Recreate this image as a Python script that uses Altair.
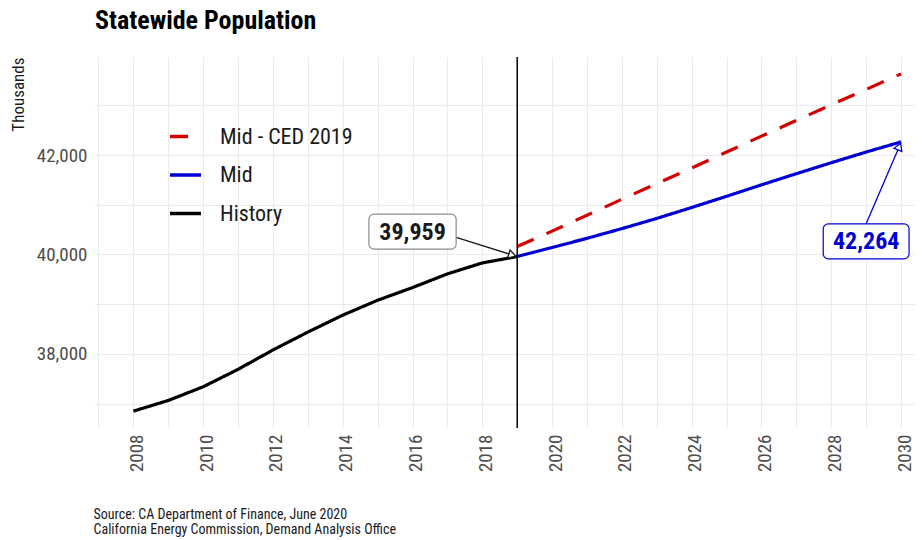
import altair as alt
import pandas as pd

# ---- data ----
hist_years = list(range(2008, 2020))
hist_values = [36850, 37065, 37340, 37690, 38080, 38440, 38780, 39080, 39335, 39610, 39830, 39959]

fc_years = list(range(2019, 2031))
mid_values = [39959, 40140, 40325, 40520, 40725, 40945, 41170, 41400, 41625, 41845, 42060, 42264]
ced_values = [40160, 40470, 40790, 41110, 41425, 41740, 42060, 42380, 42695, 43010, 43320, 43632]

series_names = ["Mid - CED 2019", "Mid", "History"]
series_colors = ["#d40000", "#0000d4", "#000000"]

x_ticks = list(range(2007, 2031))
y_ticks = list(range(37000, 44000, 1000))
x_domain = [2006.9, 2030.4]
y_domain = [36511, 43971]

vline_year = [2019]

# annotations: label text, centre, box extents, arrow start / head
ann_text = ["39,959", "42,264"]
ann_x = [2016, 2029]
ann_y = [40459, 40264]
ann_x0 = [2014.75, 2027.77]
ann_x1 = [2017.25, 2030.23]
ann_y0 = [40107, 39912]
ann_y1 = [40811, 40616]
ann_color = ["#1a1a1a", "#0000d4"]
ann_border = ["#8c8c8c", "#0000d4"]
arrow_x0 = [2017.25, 2029.0]
arrow_y0 = [40342, 40616]
arrow_x1 = [2018.86, 2029.95]
arrow_y1 = [39989, 42171]
arrow_angle = [16.7, 292.3]

FONT = "Roboto Condensed, Liberation Sans Narrow, DejaVu Sans Condensed, Roboto, sans-serif"

lines_df = pd.concat([
    pd.DataFrame({"year": hist_years, "value": hist_values, "series": "History"}),
    pd.DataFrame({"year": fc_years, "value": mid_values, "series": "Mid"}),
    pd.DataFrame({"year": fc_years, "value": ced_values, "series": "Mid - CED 2019"}),
])
ann_df = pd.DataFrame({
    "text": ann_text, "x": ann_x, "y": ann_y, "x0": ann_x0, "x1": ann_x1,
    "y0": ann_y0, "y1": ann_y1, "color": ann_color, "border": ann_border,
    "ax0": arrow_x0, "ay0": arrow_y0, "ax1": arrow_x1, "ay1": arrow_y1,
    "angle": arrow_angle,
})
vline_df = pd.DataFrame({"year": vline_year})

xscale = alt.Scale(domain=x_domain, nice=False, zero=False)
yscale = alt.Scale(domain=y_domain, nice=False, zero=False)

x_axis = alt.Axis(
    values=x_ticks, format="d",
    labelExpr="datum.value % 2 == 0 ? datum.label : ''",
    labelAngle=270, labelFontSize=19, labelColor="#4d4d4d", labelPadding=6,
    labelOffset=3,
    ticks=False, domain=False, gridColor="#ebebeb", gridWidth=1,
    title=["Source: CA Department of Finance, June 2020",
           "California Energy Commission, Demand Analysis Office"],
    titleAnchor="start", titleAlign="left", titleX=-2, titleY=90,
    titleBaseline="alphabetic", titleFontSize=14, titleFontWeight="normal",
    titleColor="#1a1a1a", titleLineHeight=15.5, labelFlush=False, labelOverlap=False,
)
y_axis = alt.Axis(
    values=y_ticks, labelExpr="datum.value % 2000 == 0 ? format(datum.value, ',') : ''",
    labelFontSize=19, labelColor="#4d4d4d", labelPadding=8,
    ticks=False, domain=False, gridColor="#ebebeb", gridWidth=1,
    title="Thousands", titleAngle=270, titleX=-77, titleY=0, titleAlign="right",
    titleBaseline="middle", titleFontSize=17, titleFontWeight="normal",
    titleColor="#1a1a1a", labelFlush=False, labelOverlap=False,
)


def X(field):
    return alt.X(field, type="quantitative", scale=xscale, axis=x_axis)


def Y(field):
    return alt.Y(field, type="quantitative", scale=yscale, axis=y_axis)


color_scale = alt.Scale(domain=series_names, range=series_colors)
dash_scale = alt.Scale(domain=series_names, range=[[18, 14], [1, 0], [1, 0]])

legend = alt.Legend(
    title=None, orient="none", legendX=73, legendY=62, symbolType="stroke",
    symbolSize=961, symbolStrokeWidth=3.5, labelFontSize=22, labelColor="#1a1a1a",
    labelOffset=17, rowPadding=9.5,
)

base_lines = alt.Chart(lines_df).mark_line(strokeWidth=3.2, strokeJoin="round").encode(
    x=X("year"),
    y=Y("value"),
    color=alt.Color("series:N", scale=color_scale, legend=legend, sort=series_names),
    strokeDash=alt.StrokeDash("series:N", scale=dash_scale, legend=legend, sort=series_names),
    detail="series:N",
)

vline = alt.Chart(vline_df).mark_rule(color="#000000", strokeWidth=1.5).encode(
    x=X("year")
)

arrows = alt.Chart(ann_df).mark_rule(strokeWidth=1.3).encode(
    x=X("ax0"), x2="ax1:Q",
    y=Y("ay0"), y2="ay1:Q",
    color=alt.Color("color:N", scale=None),
)
heads = alt.Chart(ann_df).mark_point(shape="triangle-right", size=70, fill="white",
                                     filled=False, strokeWidth=1.3, opacity=1).encode(
    x=X("ax1"), y=Y("ay1"),
    stroke=alt.Stroke("color:N", scale=None), angle=alt.Angle("angle:Q", scale=None),
)
boxes = alt.Chart(ann_df).mark_rect(fill="white", strokeWidth=1.2, cornerRadius=5).encode(
    x=X("x0"), x2="x1:Q",
    y=Y("y0"), y2="y1:Q",
    stroke=alt.Stroke("border:N", scale=None),
)
labels = alt.Chart(ann_df).mark_text(fontSize=24, fontWeight="bold", baseline="middle",
                                     align="center", dy=1).encode(
    x=X("x"), y=Y("y"), text="text:N",
    color=alt.Color("color:N", scale=None),
)

chart = alt.layer(base_lines, vline, arrows, heads, boxes, labels).properties(
    width=820, height=371,
    title=alt.TitleParams("Statewide Population", anchor="start", fontSize=26,
                          fontWeight="bold", color="#000000", offset=22, frame="group"),
    autosize=alt.AutoSizeParams(type="none"),
    padding={"left": 87, "top": 49, "right": 0, "bottom": 110},
).configure(font=FONT).configure_view(stroke=None)

chart.save("out.html", embed_options={"renderer": "svg", "actions": False})
